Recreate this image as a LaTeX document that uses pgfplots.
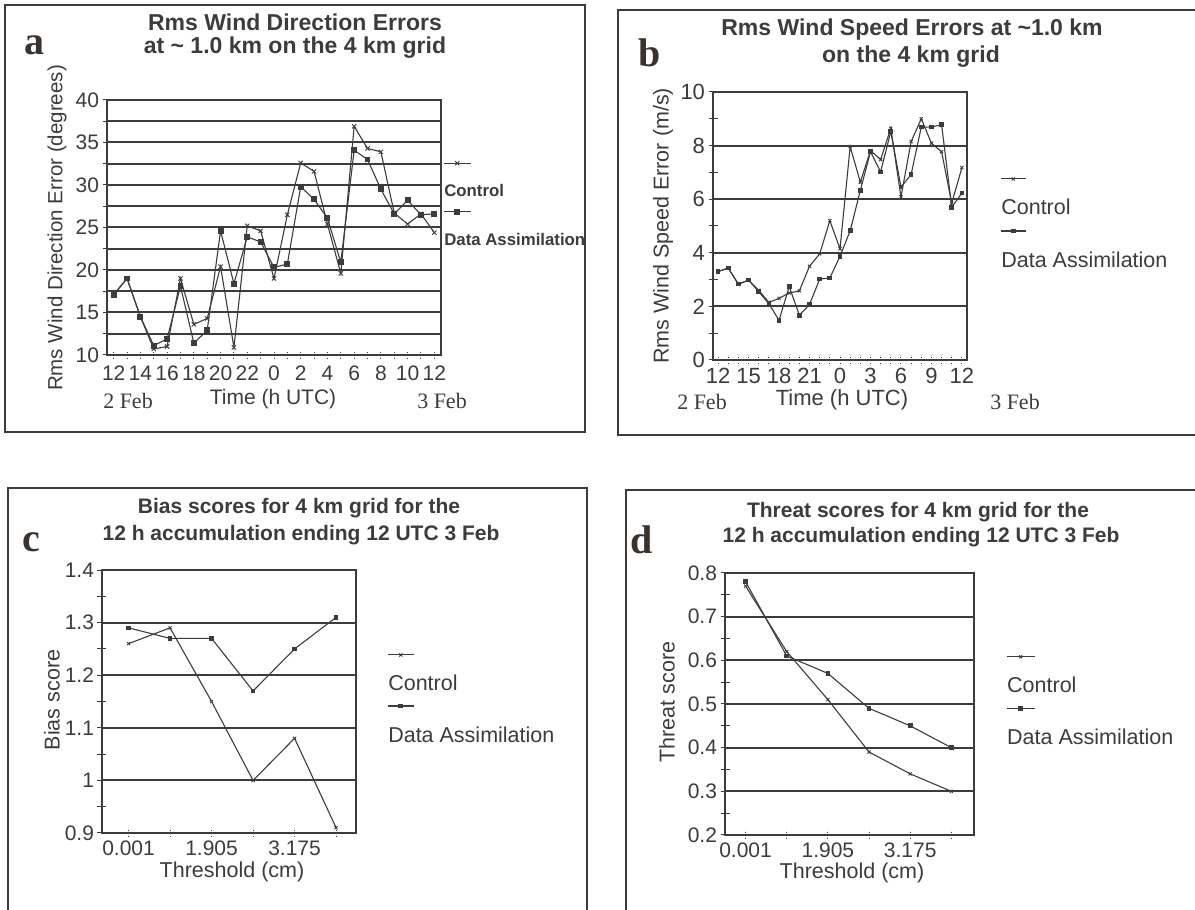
\documentclass[border=0pt]{standalone}
\usepackage{fontspec}
\setmainfont{Liberation Serif}
\setsansfont{Liberation Sans}
\usepackage{pgfplots}
\pgfplotsset{compat=1.18}
\definecolor{ink}{RGB}{60,60,60}
\definecolor{lbl}{RGB}{58,50,44}
\newcommand{\fs}[1]{\fontsize{#1}{#1}\selectfont}

\pgfplotsset{
  panel/.style={
    scale only axis,
    axis line style={ink, line width=2pt},
    tick style={ink, line width=1pt},
    x tick style={dash pattern=on 1.5pt off 1.5pt},
    major tick length=9pt, minor tick length=9pt,
    tick align=center,
    tick pos=left,
    ymajorgrids,
    major grid style={ink, line width=2pt, solid},
    /pgf/number format/assume math mode=true,
    legend cell align=left,
    legend style={draw=none, fill=none, text=ink, inner sep=0pt, column sep=0pt, nodes={inner sep=0pt}},
  },
  legabove/.style n args={2}{legend image code/.code={%
      \path (0pt,0pt);
      \draw[overlay, mark repeat=2, mark phase=2, ##1] plot coordinates {(0pt,#1) (#2/2,#1) (#2,#1)};}},
  ctl/.style={ink, line width=1.1pt, mark=x, mark size=3pt, mark options={solid, line width=0.9pt}},
  das/.style={ink, line width=1.1pt, mark=square*, mark size=2.4pt, mark options={solid}},
}

\begin{document}
\begin{tikzpicture}[x=1pt,y=1pt]
\useasboundingbox (0,0) rectangle (1195,910);
\fill[white] (0,0) rectangle (1195,910);

% ---------- frames ----------
\draw[ink, line width=1.4pt] (5,905) rectangle (585,478);
\draw[ink, line width=1.4pt] (618,900) rectangle (1200,475);
\draw[ink, line width=1.4pt] (8,422) rectangle (587,-5);
\draw[ink, line width=1.4pt] (626,420) rectangle (1200,-5);

% ================= panel a =================
\begin{axis}[panel, at={(107pt,555pt)}, anchor=south west, width=334pt, height=255pt,
  xmin=-0.5, xmax=24.5, ymin=10, ymax=40,
  xtick={0,...,24},
  xticklabels={12,,14,,16,,18,,20,,22,,0,,2,,4,,6,,8,,10,,12},
  ytick={10,15,20,25,30,35,40},
  minor ytick={12.5,17.5,22.5,27.5,32.5,37.5},
  yminorgrids, minor grid style={ink, line width=2pt, solid},
  xticklabel style={font=\sffamily\fs{21}, text=ink, yshift=-3pt},
  yticklabel style={font=\sffamily\fs{21}, text=ink},
  legend style={at={(1.006,0.67)}, anchor=north west, font=\sffamily\bfseries\fs{16.8}, row sep=35pt},
  legabove={28pt}{27pt}]
\addplot[ctl] coordinates {(0,17.1) (1,19.0) (2,14.5) (3,10.7) (4,11.0) (5,19.0) (6,13.6) (7,14.3) (8,20.4) (9,10.9) (10,25.2) (11,24.6) (12,19.0) (13,26.5) (14,32.6) (15,31.6) (16,25.4) (17,19.6) (18,36.9) (19,34.3) (20,33.9) (21,26.7) (22,25.4) (23,26.6) (24,24.4)};
\addlegendentry{Control}
\addplot[das] coordinates {(0,17.1) (1,19.0) (2,14.5) (3,11.1) (4,11.9) (5,18.1) (6,11.4) (7,12.9) (8,24.6) (9,18.4) (10,23.9) (11,23.3) (12,20.3) (13,20.7) (14,29.8) (15,28.3) (16,26.1) (17,20.9) (18,34.1) (19,33.0) (20,29.5) (21,26.6) (22,28.2) (23,26.5) (24,26.6)};
\addlegendentry{Data Assimilation}
\end{axis}
\node[text=ink, font=\sffamily\bfseries\fs{23}] at (295,888) {Rms Wind Direction Errors};
\node[text=ink, font=\sffamily\bfseries\fs{23}] at (295,862) {at \textasciitilde{} 1.0 km on the 4 km grid};
\node[text=lbl, font=\rmfamily\bfseries\fs{40}] at (34,865) {a};
\node[text=ink, font=\sffamily\fs{20.5}, rotate=90] at (57,682) {Rms Wind Direction Error (degrees)};
\node[text=ink, font=\sffamily\fs{21}] at (273,511) {Time (h UTC)};
\node[text=ink, font=\rmfamily\fs{22}] at (128,509) {2 Feb};
\node[text=ink, font=\rmfamily\fs{22}] at (442,509) {3 Feb};

% ================= panel b =================
\begin{axis}[panel, at={(713pt,550pt)}, anchor=south west, width=254pt, height=268pt,
  xmin=-0.5, xmax=24.5, ymin=0, ymax=10,
  xtick={0,...,24},
  xticklabels={12,,,15,,,18,,,21,,,0,,,3,,,6,,,9,,,12},
  ytick={0,2,4,6,8,10},
  minor ytick={1,3,5,7,9},
  xticklabel style={font=\sffamily\fs{22}, text=ink},
  yticklabel style={font=\sffamily\fs{22}, text=ink},
  legend style={at={(1.13,0.60)}, anchor=north west, font=\sffamily\fs{21.5}, row sep=35pt},
  legabove={29pt}{25pt}]
\addplot[ctl, mark size=2.2pt] coordinates {(0,3.30) (1,3.43) (2,2.83) (3,2.98) (4,2.60) (5,2.15) (6,2.30) (7,2.50) (8,2.58) (9,3.50) (10,3.96) (11,5.20) (12,4.15) (13,7.96) (14,6.64) (15,7.81) (16,7.48) (17,8.65) (18,6.08) (19,8.15) (20,9.00) (21,8.09) (22,7.77) (23,5.85) (24,7.18)};
\addlegendentry{Control}
\addplot[das, mark size=1.8pt] coordinates {(0,3.30) (1,3.43) (2,2.83) (3,2.98) (4,2.55) (5,2.10) (6,1.48) (7,2.74) (8,1.67) (9,2.07) (10,3.02) (11,3.06) (12,3.87) (13,4.82) (14,6.33) (15,7.77) (16,7.02) (17,8.53) (18,6.45) (19,6.92) (20,8.69) (21,8.69) (22,8.78) (23,5.70) (24,6.23)};
\addlegendentry{Data Assimilation}
\end{axis}
\node[text=ink, font=\sffamily\bfseries\fs{23}] at (912,880) {Rms Wind Speed Errors at \textasciitilde1.0 km};
\node[text=ink, font=\sffamily\bfseries\fs{23}] at (911,853) {on the 4 km grid};
\node[text=lbl, font=\rmfamily\bfseries\fs{40}] at (650,857) {b};
\node[text=ink, font=\sffamily\fs{21.5}, rotate=90] at (663,684) {Rms Wind Speed Error (m/s)};
\node[text=ink, font=\sffamily\fs{22}] at (842,510) {Time (h UTC)};
\node[text=ink, font=\rmfamily\fs{22}] at (702,508) {2 Feb};
\node[text=ink, font=\rmfamily\fs{22}] at (1015,508) {3 Feb};

% ================= panel c =================
\begin{axis}[panel, at={(102pt,77pt)}, anchor=south west, width=254pt, height=263pt,
  xmin=-0.64, xmax=5.48, ymin=0.9, ymax=1.4,
  xtick={0,1,2,3,4,5},
  xticklabels={0.001,,1.905,,3.175,},
  ytick={0.9,1.0,1.1,1.2,1.3,1.4},
  yticklabels={0.9,1,1.1,1.2,1.3,1.4},
  minor ytick={0.95,1.05,1.15,1.25,1.35},
  xticklabel style={font=\sffamily\fs{21}, text=ink},
  yticklabel style={font=\sffamily\fs{21}, text=ink},
  legend style={at={(1.122,0.60)}, anchor=north west, font=\sffamily\fs{21.5}, row sep=34pt},
  legabove={29pt}{26pt}]
\addplot[ctl, mark size=2.2pt] coordinates {(0,1.26) (1,1.29) (2,1.15) (3,1.00) (4,1.08) (5,0.91)};
\addlegendentry{Control}
\addplot[das, mark size=1.8pt] coordinates {(0,1.29) (1,1.27) (2,1.27) (3,1.17) (4,1.25) (5,1.31)};
\addlegendentry{Data Assimilation}
\end{axis}
\node[text=ink, font=\sffamily\bfseries\fs{21}] at (299,402) {Bias scores for 4 km grid for the};
\node[text=ink, font=\sffamily\bfseries\fs{21}] at (301,375) {12 h accumulation ending 12 UTC 3 Feb};
\node[text=lbl, font=\rmfamily\bfseries\fs{40}] at (31,368) {c};
\node[text=ink, font=\sffamily\fs{21.5}, rotate=90] at (52,210) {Bias score};
\node[text=ink, font=\sffamily\fs{21.5}] at (232,38) {Threshold (cm)};

% ================= panel d =================
\begin{axis}[panel, at={(725pt,75pt)}, anchor=south west, width=249pt, height=262pt,
  xmin=-0.5, xmax=5.55, ymin=0.2, ymax=0.8,
  xtick={0,1,2,3,4,5},
  xticklabels={0.001,,1.905,,3.175,},
  ytick={0.2,0.3,0.4,0.5,0.6,0.7,0.8},
  yticklabels={0.2,0.3,0.4,0.5,0.6,0.7,0.8},
  minor ytick={0.25,0.35,0.45,0.55,0.65,0.75},
  xticklabel style={font=\sffamily\fs{21}, text=ink},
  yticklabel style={font=\sffamily\fs{21}, text=ink},
  legend style={at={(1.128,0.603)}, anchor=north west, font=\sffamily\fs{21.5}, row sep=35pt},
  legabove={29pt}{28pt}]
\addplot[ctl, mark size=2.2pt] coordinates {(0,0.77) (1,0.62) (2,0.51) (3,0.39) (4,0.34) (5,0.30)};
\addlegendentry{Control}
\addplot[das, mark size=1.8pt] coordinates {(0,0.78) (1,0.61) (2,0.57) (3,0.49) (4,0.45) (5,0.40)};
\addlegendentry{Data Assimilation}
\end{axis}
\node[text=ink, font=\sffamily\bfseries\fs{21}] at (918,398) {Threat scores for 4 km grid for the};
\node[text=ink, font=\sffamily\bfseries\fs{21}] at (921,373) {12 h accumulation ending 12 UTC 3 Feb};
\node[text=lbl, font=\rmfamily\bfseries\fs{40}] at (642,370) {d};
\node[text=ink, font=\sffamily\fs{21.5}, rotate=90] at (667,208) {Threat score};
\node[text=ink, font=\sffamily\fs{21.5}] at (852,37) {Threshold (cm)};
\end{tikzpicture}
\end{document}
